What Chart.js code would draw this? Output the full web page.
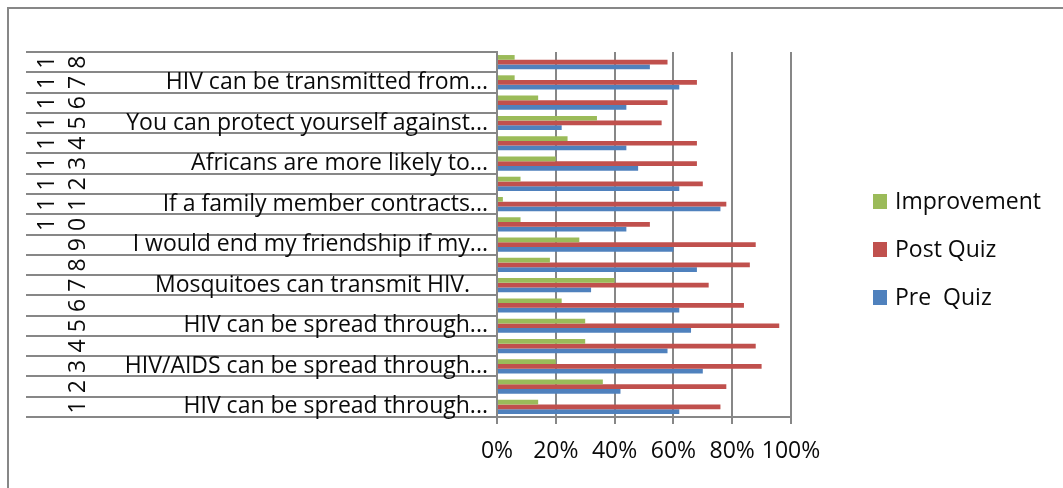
<!DOCTYPE html>
<html>
<head>
<meta charset="utf-8">
<script src="https://cdn.jsdelivr.net/npm/chart.js@4/dist/chart.umd.min.js"></script>
<style>
  html, body { margin: 0; padding: 0; background: #fff; }
  #wrap { width: 1063px; height: 488px; }
</style>
</head>
<body>
<div id="wrap"><canvas id="chart" width="1063" height="488"></canvas></div>
<script>
// Quiz items, numbered 1..18 from the bottom of the chart
const categories = ['1','2','3','4','5','6','7','8','9','10','11','12','13','14','15','16','17','18'];
const questions = [
  'HIV can be spread through...', '',
  'HIV/AIDS can be spread through...', '',
  'HIV can be spread through...', '',
  'Mosquitoes can transmit HIV.   ', '',
  'I would end my friendship if my...', '',
  'If a family member contracts...', '',
  'Africans are more likely to...', '',
  'You can protect yourself against...', '',
  'HIV can be transmitted from...', ''
];

// Share of correct answers (%)
const preQuiz     = [62, 42, 70, 58, 66, 62, 32, 68, 60, 44, 76, 62, 48, 44, 22, 44, 62, 52];
const postQuiz    = [76, 78, 90, 88, 96, 84, 72, 86, 88, 52, 78, 70, 68, 68, 56, 58, 68, 58];
const improvement = [14, 36, 20, 30, 30, 22, 40, 18, 28,  8,  2,  8, 20, 24, 34, 14,  6,  6];

const xTicks = [0, 20, 40, 60, 80, 100];

const FONT = '"Open Sans"';
const FSIZE = 23;
const GRID = '#878787';
const TEXT = '#0a0a0a';

const decorations = {
  id: 'decorations',
  beforeDraw(chart) {
    const ctx = chart.ctx;
    const y = chart.scales.y;
    const area = chart.chartArea;
    const n = categories.length;
    const p0 = y.getPixelForValue(0);
    const step = y.getPixelForValue(1) - p0;
    ctx.save();
    ctx.fillStyle = '#fff';
    ctx.fillRect(0, 0, chart.width, chart.height);
    ctx.strokeStyle = GRID;
    ctx.lineWidth = 2;
    // chart frame
    ctx.beginPath();
    ctx.moveTo(8, chart.height);
    ctx.lineTo(8, 8);
    ctx.lineTo(chart.width, 8);
    ctx.stroke();
    // row separators of the category axis
    for (let k = 0; k <= n; k++) {
      const py = Math.round(p0 + (k - 0.5) * step);
      ctx.beginPath();
      ctx.moveTo(26, py);
      ctx.lineTo(area.left, py);
      ctx.stroke();
    }
    ctx.restore();
  },
  afterDraw(chart) {
    const ctx = chart.ctx;
    const y = chart.scales.y;
    ctx.save();
    // item numbers, written sideways
    ctx.fillStyle = TEXT;
    ctx.font = FSIZE + 'px ' + FONT;
    ctx.textAlign = 'center';
    ctx.textBaseline = 'alphabetic';
    categories.forEach((c, i) => {
      const cy = y.getPixelForValue(i);
      const digits = c.split('');
      const cols = digits.length === 2 ? [54, 85] : [85];
      digits.forEach((d, j) => {
        ctx.save();
        ctx.translate(cols[j], cy);
        ctx.rotate(-Math.PI / 2);
        ctx.fillText(d, 0, 0);
        ctx.restore();
      });
    });
    // legend
    const baselines = [209, 257, 305];
    ctx.textAlign = 'left';
    chart.data.datasets.forEach((ds, i) => {
      const b = baselines[i];
      ctx.fillStyle = ds.backgroundColor;
      ctx.fillRect(873, b - 15, 14, 15);
      ctx.fillStyle = TEXT;
      ctx.fillText(ds.label, 895, b);
    });
    ctx.restore();
  }
};

function draw() {
  new Chart(document.getElementById('chart'), {
    type: 'bar',
    data: {
      labels: categories,
      datasets: [
        { label: 'Improvement', data: improvement, backgroundColor: '#9BBB59' },
        { label: 'Post Quiz',   data: postQuiz,    backgroundColor: '#C0504D' },
        { label: 'Pre  Quiz',   data: preQuiz,     backgroundColor: '#4F81BD' }
      ]
    },
    options: {
      indexAxis: 'y',
      responsive: false,
      animation: false,
      devicePixelRatio: 1,
      layout: { padding: { top: 52, right: 272, bottom: 0, left: 0 } },
      datasets: { bar: { categoryPercentage: 0.7, barPercentage: 1.0, borderWidth: 0 } },
      plugins: { legend: { display: false }, tooltip: { enabled: false } },
      scales: {
        x: {
          min: 0, max: 100,
          afterBuildTicks(scale) { scale.ticks = xTicks.map(v => ({ value: v })); },
          afterFit(scale) { scale.height = 71; },
          grid: { color: GRID, lineWidth: 2, tickLength: 7, drawTicks: true },
          border: { display: true, color: GRID, width: 2 },
          ticks: {
            autoSkip: false,
            padding: 14,
            color: TEXT,
            font: { family: FONT, size: FSIZE },
            maxRotation: 0,
            callback: v => v + '%'
          }
        },
        y: {
          reverse: true,
          afterFit(scale) { scale.width = 497; },
          grid: { display: false, drawTicks: false },
          border: { display: true, color: GRID, width: 2 },
          ticks: {
            autoSkip: false,
            padding: 9,
            color: TEXT,
            font: { family: FONT, size: FSIZE },
            callback: v => questions[v]
          }
        }
      }
    },
    plugins: [decorations]
  });
}

if (document.fonts && document.fonts.load) {
  document.fonts.load(FSIZE + 'px ' + FONT).then(draw, draw);
} else {
  draw();
}
</script>
</body>
</html>
